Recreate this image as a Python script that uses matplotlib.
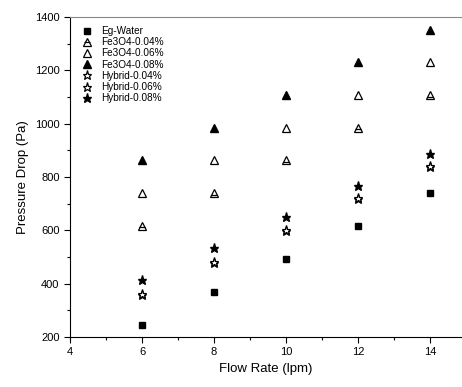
import matplotlib
matplotlib.use("Agg")
import matplotlib.pyplot as plt
from matplotlib.ticker import MultipleLocator

plt.rcParams['font.family'] = ['Liberation Sans', 'DejaVu Sans']

flow = [6, 8, 10, 12, 14]
eg_water = [245, 369, 491, 615, 739]
fe_004 = [617, 739, 862, 984, 1107]
fe_006 = [739, 862, 984, 1107, 1230]
fe_008 = [862, 984, 1107, 1230, 1353]
hyb_004 = [358, 478, 598, 718, 838]
hyb_006 = [362, 482, 602, 722, 842]
hyb_008 = [413, 533, 650, 768, 887]

fig = plt.figure(figsize=(4.62, 3.87), dpi=100)
ax = fig.add_axes([70 / 462, 50 / 387, 392 / 462, 320 / 387])

ms = 5.5
mew = 0.9
p0, = ax.plot(flow, eg_water, ls='none', marker='s', ms=4.8, color='black')
p1, = ax.plot(flow, fe_004, ls='none', marker='^', ms=ms, mfc='white', mec='black', mew=mew)
p1b, = ax.plot(flow, fe_004, ls='none', marker='_', ms=5, mec='black', mew=mew,
               markevery=None)
p1b.set_transform(p1b.get_transform() + matplotlib.transforms.ScaledTranslation(0, -1.5 / 100, fig.dpi_scale_trans))
p2, = ax.plot(flow, fe_006, ls='none', marker='^', ms=ms, mfc='white', mec='black', mew=mew)
p3, = ax.plot(flow, fe_008, ls='none', marker='^', ms=ms, color='black')
p4, = ax.plot(flow, hyb_004, ls='none', marker='*', ms=6.8, mfc='white', mec='black', mew=mew)
p5, = ax.plot(flow, hyb_006, ls='none', marker='*', ms=6.8, mfc='white', mec='black', mew=mew)
p6, = ax.plot(flow, hyb_008, ls='none', marker='*', ms=6.8, color='black')

ax.set_xlim(4, 4 + 392 / 36)
ax.set_ylim(200, 1400)
ax.xaxis.set_major_locator(MultipleLocator(2))
ax.xaxis.set_minor_locator(MultipleLocator(1))
ax.yaxis.set_major_locator(MultipleLocator(200))
ax.yaxis.set_minor_locator(MultipleLocator(100))
ax.tick_params(which='major', direction='out', length=4, width=0.8, labelsize=8)
ax.tick_params(which='minor', direction='out', length=2.5, width=0.8)
ax.spines['right'].set_visible(False)
ax.spines['top'].set_color('#888888')

ax.set_xlabel('Flow Rate (lpm)', fontsize=9.5, labelpad=4)
ax.set_ylabel('Pressure Drop (Pa)', fontsize=9.5, labelpad=4)

handles = [p0, (p1, p1b), p2, p3, p4, p5, p6]
labels = ['Eg-Water', 'Fe3O4-0.04%', 'Fe3O4-0.06%', 'Fe3O4-0.08%',
          'Hybrid-0.04%', 'Hybrid-0.06%', 'Hybrid-0.08%']
ax.legend(handles, labels, loc='upper left', bbox_to_anchor=(0.0, 1.0), frameon=False,
          fontsize=7.2, handlelength=1.6, handletextpad=0.6, labelspacing=0.12,
          borderaxespad=0.5, numpoints=1)

fig.savefig('out.png', dpi=100)
